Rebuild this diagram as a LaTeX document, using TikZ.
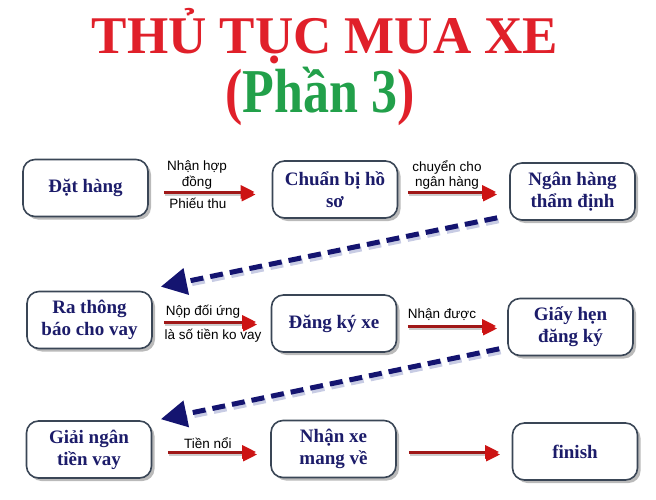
\documentclass[tikz,border=0pt]{standalone}
\usepackage{fontspec}
\setmainfont{Liberation Serif}
\newfontfamily\labelfont{Liberation Sans}
\usetikzlibrary{arrows.meta,shadows}
\definecolor{titlered}{HTML}{E0202A}
\definecolor{titlegreen}{HTML}{22A04A}
\definecolor{navy}{HTML}{1C1C6A}
\definecolor{boxline}{HTML}{3A4656}
\definecolor{arrred}{HTML}{A01818}
\definecolor{headred}{HTML}{CC1414}
\definecolor{dashnavy}{HTML}{141470}
\definecolor{dashshade}{HTML}{C8CCE4}
\begin{document}
\begin{tikzpicture}[x=1pt,y=-1pt,
  stepbox/.style={draw=boxline, line width=1.6pt, rounded corners=12pt, fill=white,
    minimum width=125pt, minimum height=57pt, align=center,
    font=\fontsize{19}{22}\selectfont\bfseries, text=navy,
    drop shadow={shadow xshift=3pt,shadow yshift=-3pt,opacity=0.45,fill=black!60}},
  lbl/.style={font=\labelfont\fontsize{13.5}{15.5}\selectfont, align=center, inner sep=0pt},
  redarrow/.style={draw=arrred, line width=3pt,
    -{Triangle[length=14pt,width=13pt,color=headred,fill=headred]},
    preaction={draw=black!20, line width=3pt, transform canvas={xshift=1pt,yshift=-2.5pt}}},
  dasharrow/.style={draw=dashnavy, line width=5pt, dash pattern=on 13pt off 7pt,
    -{Triangle[length=26pt,width=26pt]}},
  dashshadow/.style={draw=dashshade, line width=5pt, dash pattern=on 13pt off 7pt,
    shorten >=22pt, transform canvas={xshift=1.5pt,yshift=-3pt}},
]
\useasboundingbox (0,0) rectangle (656,500);

% title
\node[name=title, anchor=base, text=titlered, font=\fontsize{53}{60}\selectfont\bfseries]
  at (325,54) {THỦ TỤC MUA XE};
\node[name=subtitle, anchor=base, font=\fontsize{52}{60}\selectfont\bfseries]
  at (320,113) {\scalebox{1}[1.2]{\textcolor{titlered}{(}\textcolor{titlegreen}{Phần 3}\textcolor{titlered}{)}}};

% boxes
\node[stepbox] (n1) at (85.5,188) {Đặt hàng};
\node[stepbox] (n2) at (335,189.5) {Chuẩn bị hồ\\sơ};
\node[stepbox] (n3) at (572.5,191.5) {Ngân hàng\\thẩm định};
\node[stepbox] (n4) at (89.5,320) {Ra thông\\báo cho vay};
\node[stepbox] (n5) at (334,323.5) {Đăng ký xe};
\node[stepbox] (n6) at (570.5,327) {Giấy hẹn\\đăng ký};
\node[stepbox] (n7) at (89,449.5) {Giải ngân\\tiền vay};
\node[stepbox] (n8) at (333.5,449) {Nhận xe\\mang về};
\node[stepbox] (n9) at (575,451.5) {finish};

% labels
\node[lbl] (l1a) at (197,175) {Nhận hợp\\đồng};
\node[lbl] (l1b) at (198,203) {Phiếu thu};
\node[lbl] (l2) at (447,175) {chuyển cho\\ngân hàng};
\node[lbl] (l3a) at (203,312) {Nộp đối ứng};
\node[lbl] (l3b) at (213,336) {là số tiền ko vay};
\node[lbl] (l4) at (442,315) {Nhận được};
\node[lbl] (l5) at (208,443) {Tiền nổi};

% red arrows
\draw[redarrow] ([xshift=15pt,yshift=-4pt]n1.east) -- ([xshift=-17pt,yshift=-2.5pt]n2.west);
\draw[redarrow] ([xshift=9.5pt,yshift=-2.5pt]n2.east) -- ([xshift=-13pt,yshift=-0.5pt]n3.west);
\draw[redarrow] ([xshift=11pt,yshift=-2pt]n4.east) -- ([xshift=-14.5pt,yshift=1.5pt]n5.west);
\draw[redarrow] ([xshift=10.5pt,yshift=-2.5pt]n5.east) -- ([xshift=-11pt,yshift=1pt]n6.west);
\draw[redarrow] ([xshift=15.5pt,yshift=-2.5pt]n7.east) -- ([xshift=-14pt,yshift=-3pt]n8.west);
\draw[redarrow] ([xshift=12pt,yshift=-3pt]n8.east) -- ([xshift=-12.5pt,yshift=-0.5pt]n9.west);

% dashed arrows
\draw[dashshadow] ([xshift=-12pt,yshift=3pt]n3.south west) -- ([xshift=8pt,yshift=4pt]n4.north east);
\draw[dasharrow] ([xshift=-12pt,yshift=3pt]n3.south west) -- ([xshift=8pt,yshift=4pt]n4.north east);
\draw[dashshadow] ([xshift=-8pt,yshift=7.5pt]n6.south west) -- ([xshift=8.5pt,yshift=1pt]n7.north east);
\draw[dasharrow] ([xshift=-8pt,yshift=7.5pt]n6.south west) -- ([xshift=8.5pt,yshift=1pt]n7.north east);
\end{tikzpicture}
\end{document}
